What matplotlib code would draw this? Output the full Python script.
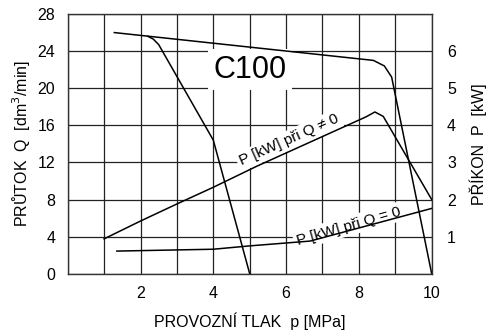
import matplotlib
matplotlib.use("Agg")
import matplotlib.pyplot as plt
from matplotlib.ticker import MultipleLocator

plt.rcParams['font.family'] = ['Liberation Sans', 'DejaVu Sans']

# flow curves Q [dm3/min] vs pressure p [MPa]
q_upper_p = [1.28, 8.4, 8.7, 8.9, 10.0]
q_upper_q = [26.0, 23.0, 22.4, 21.2, 0.0]
q_lower_p = [2.2, 2.35, 2.5, 4.0, 5.0]
q_lower_q = [25.6, 25.3, 24.7, 14.4, 0.0]

# input power P [kW]
pw_load_p = [1.0, 2.0, 3.0, 4.0, 5.2, 8.2, 8.44, 8.67, 10.0]
pw_load_kw = [0.94, 1.42, 1.88, 2.33, 2.9, 4.23, 4.36, 4.24, 2.0]
pw_idle_p = [1.35, 4.0, 5.0, 6.66, 10.0]
pw_idle_kw = [0.61, 0.66, 0.75, 0.88, 1.76]

x_ticks = [2, 4, 6, 8, 10]
q_ticks = [0, 4, 8, 12, 16, 20, 24, 28]
p_ticks = [1, 2, 3, 4, 5, 6]

fig = plt.figure(figsize=(4.99, 3.34), dpi=100)
ax = fig.add_axes([0.1357, 0.1805, 0.7294, 0.7775])
ax.set_axisbelow(True)
ax.set_xlim(0, 10)
ax.set_ylim(0, 28)
ax.set_xticks(x_ticks)
ax.xaxis.set_minor_locator(MultipleLocator(1))
ax.set_yticks(q_ticks)
ax.grid(True, which='both', color='#222222', lw=0.9)
ax.tick_params(which='both', length=0, labelsize=11.5, pad=9)
for s in ax.spines.values():
    s.set_color('#333333')
    s.set_linewidth(1.0)

ax.plot(q_upper_p, q_upper_q, color='black', lw=1.1, zorder=2)
ax.plot(q_lower_p, q_lower_q, color='black', lw=1.1, zorder=2)

box = dict(facecolor='white', edgecolor='none', pad=2)
ax.text(5.0, 22.0, 'C100', fontsize=22, ha='center', va='center', zorder=1.5,
        bbox=dict(facecolor='white', edgecolor='none', pad=4))
ax.text(6.08, 14.4, 'P [kW] při Q \u2260 0', fontsize=11, rotation=24,
        rotation_mode='anchor', ha='center', va='center', zorder=1.5, bbox=box)
ax.text(7.71, 5.14, 'P [kW] při Q = 0', fontsize=11, rotation=16,
        rotation_mode='anchor', ha='center', va='center', zorder=1.5, bbox=box)

ax.set_xlabel('PROVOZNÍ TLAK  p [MPa]', fontsize=11.5, labelpad=8)
ax.set_ylabel('PRŮTOK  Q  [dm$^3$/min]', fontsize=11.5, labelpad=4)

ax2 = ax.twinx()
ax2.set_ylim(0, 7)
ax2.set_yticks(p_ticks)
ax2.tick_params(length=0, labelsize=11.5, pad=11)
for s in ax2.spines.values():
    s.set_visible(False)
ax2.plot(pw_load_p, pw_load_kw, color='black', lw=1.1)
ax2.plot(pw_idle_p, pw_idle_kw, color='black', lw=1.1)
ax2.set_ylabel('PŘÍKON  P  [kW]', fontsize=11.5, labelpad=10)

fig.savefig('out.png', dpi=100)
